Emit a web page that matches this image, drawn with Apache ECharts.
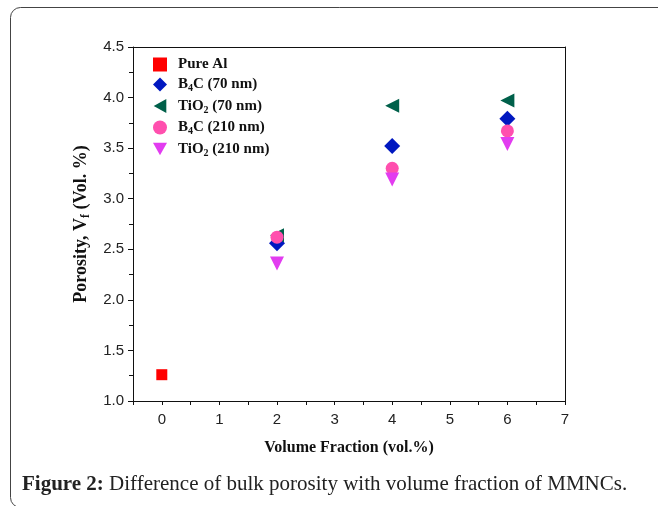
<!DOCTYPE html>
<html>
<head>
<meta charset="utf-8">
<script src="https://cdn.jsdelivr.net/npm/echarts@6/dist/echarts.min.js"></script>
<style>
  html, body { margin: 0; padding: 0; background: #fff; }
  #chart { width: 658px; height: 506px; }
</style>
</head>
<body>
<div id="chart"></div>
<script>
// data
const fractions = [0, 2, 4, 6]
const pureAl = [1.26]
const b4c70 = [2.56, 3.52, 3.79]
const tio270 = [2.64, 3.92, 3.97]
const b4c210 = [2.62, 3.30, 3.67]
const tio2210 = [2.36, 3.19, 3.54]

const names = ['Pure Al', 'B4C (70 nm)', 'TiO2 (70 nm)', 'B4C (210 nm)', 'TiO2 (210 nm)']
// legend labels with subscripts
const richNames = {
  'Pure Al': 'Pure Al',
  'B4C (70 nm)': 'B{s|4}C (70 nm)',
  'TiO2 (70 nm)': 'TiO{s|2} (70 nm)',
  'B4C (210 nm)': 'B{s|4}C (210 nm)',
  'TiO2 (210 nm)': 'TiO{s|2} (210 nm)'
}

const serif = '"Liberation Serif", "DejaVu Serif", serif'
const sans = '"Liberation Sans", Arial, sans-serif'

// triangle icons pointing left / down for the legend
const triLeft = 'path://M0,5L9,0L9,10Z'
const triDown = 'path://M0,0L10,0L5,9Z'

function pairs (xs, ys) {
  return ys.map((y, i) => [xs[i], y])
}

const chart = echarts.init(document.getElementById('chart'))

chart.setOption({
  backgroundColor: '#fff',
  animation: false,
  graphic: [
    {
      // figure frame
      type: 'rect',
      left: 8,
      top: 5,
      shape: { width: 700, height: 500, r: 10 },
      style: { fill: 'none', stroke: '#444', lineWidth: 1 }
    },
    {
      type: 'text',
      left: 22,
      top: 474,
      style: {
        text: '{b|Figure 2:} Difference of bulk porosity with volume fraction of MMNCs.',
        font: '21px ' + serif,
        fill: '#222',
        rich: {
          b: { fontWeight: 'bold', fontSize: 21, fontFamily: serif, fill: '#222' }
        }
      }
    }
  ],
  grid: {
    left: 133,
    right: 93,
    top: 47,
    bottom: 105
  },
  legend: {
    orient: 'vertical',
    left: 148,
    top: 52,
    itemWidth: 14,
    itemHeight: 14,
    itemGap: 5,
    data: [
      { name: names[0] },
      { name: names[1] },
      { name: names[2], icon: triLeft },
      { name: names[3] },
      { name: names[4], icon: triDown }
    ],
    formatter: name => richNames[name],
    textStyle: {
      fontFamily: serif,
      fontWeight: 'bold',
      fontSize: 15,
      color: '#111',
      padding: [0, 0, 0, 6],
      rich: {
        s: { fontFamily: serif, fontWeight: 'bold', fontSize: 10, verticalAlign: 'bottom', padding: [8, 0, 0, 0] }
      }
    }
  },
  xAxis: [
    {
      type: 'value',
      min: -0.5,
      max: 7,
      interval: 0.5,
      name: 'Volume Fraction (vol.%)',
      nameLocation: 'middle',
      nameGap: 39,
      nameTextStyle: { fontFamily: serif, fontWeight: 'bold', fontSize: 16, color: '#111' },
      axisLine: { show: true, onZero: false, lineStyle: { color: '#111', width: 1 } },
      axisTick: { show: true, inside: false, length: 4, lineStyle: { color: '#111' } },
      axisLabel: {
        fontFamily: sans,
        fontSize: 15,
        color: '#222',
        margin: 11,
        formatter: v => (Number.isInteger(v) ? String(v) : '')
      },
      splitLine: { show: false }
    },
    {
      // top edge of the box
      type: 'value', position: 'top', min: -0.5, max: 7,
      axisLine: { show: true, onZero: false, lineStyle: { color: '#111' } },
      axisTick: { show: false }, axisLabel: { show: false }, splitLine: { show: false }
    }
  ],
  yAxis: [
    {
      type: 'value',
      min: 1,
      max: 4.5,
      interval: 0.5,
      name: 'Porosity, V{s|f} (Vol. %)',
      nameLocation: 'middle',
      nameGap: 36,
      nameRotate: 90,
      nameTextStyle: {
        fontFamily: serif,
        fontWeight: 'bold',
        fontSize: 18,
        color: '#111',
        rich: {
          s: { fontFamily: serif, fontWeight: 'bold', fontSize: 12, verticalAlign: 'bottom', padding: [9, 0, 0, 0] }
        }
      },
      axisLine: { show: true, onZero: false, lineStyle: { color: '#111', width: 1 } },
      axisTick: { show: true, inside: false, length: 5, lineStyle: { color: '#111' } },
      minorTick: { show: true, splitNumber: 2, length: 4, lineStyle: { color: '#111' } },
      axisLabel: {
        fontFamily: sans,
        fontSize: 15,
        color: '#222',
        margin: 9,
        formatter: v => v.toFixed(1)
      },
      splitLine: { show: false }
    },
    {
      // right edge of the box
      type: 'value', position: 'right', min: 1, max: 4.5,
      axisLine: { show: true, onZero: false, lineStyle: { color: '#111' } },
      axisTick: { show: false }, axisLabel: { show: false }, splitLine: { show: false }
    }
  ],
  series: [
    {
      name: 'Pure Al',
      type: 'scatter',
      symbol: 'rect',
      symbolSize: 11,
      itemStyle: { color: '#ff0000', opacity: 1 },
      data: pairs(fractions, pureAl)
    },
    {
      name: 'B4C (70 nm)',
      type: 'scatter',
      symbol: 'diamond',
      symbolSize: 16,
      itemStyle: { color: '#0018c0', opacity: 1 },
      data: pairs(fractions.slice(1), b4c70)
    },
    {
      name: 'TiO2 (70 nm)',
      type: 'scatter',
      symbol: 'triangle',
      symbolRotate: 90,
      symbolSize: 14,
      itemStyle: { color: '#00604a', opacity: 1 },
      data: pairs(fractions.slice(1), tio270)
    },
    {
      name: 'B4C (210 nm)',
      type: 'scatter',
      symbol: 'circle',
      symbolSize: 13,
      itemStyle: { color: '#ff4fae', opacity: 1 },
      data: pairs(fractions.slice(1), b4c210)
    },
    {
      name: 'TiO2 (210 nm)',
      type: 'scatter',
      symbol: 'triangle',
      symbolRotate: 180,
      symbolSize: 14,
      itemStyle: { color: '#e23cf0', opacity: 1 },
      data: pairs(fractions.slice(1), tio2210)
    }
  ]
})
</script>
</body>
</html>
